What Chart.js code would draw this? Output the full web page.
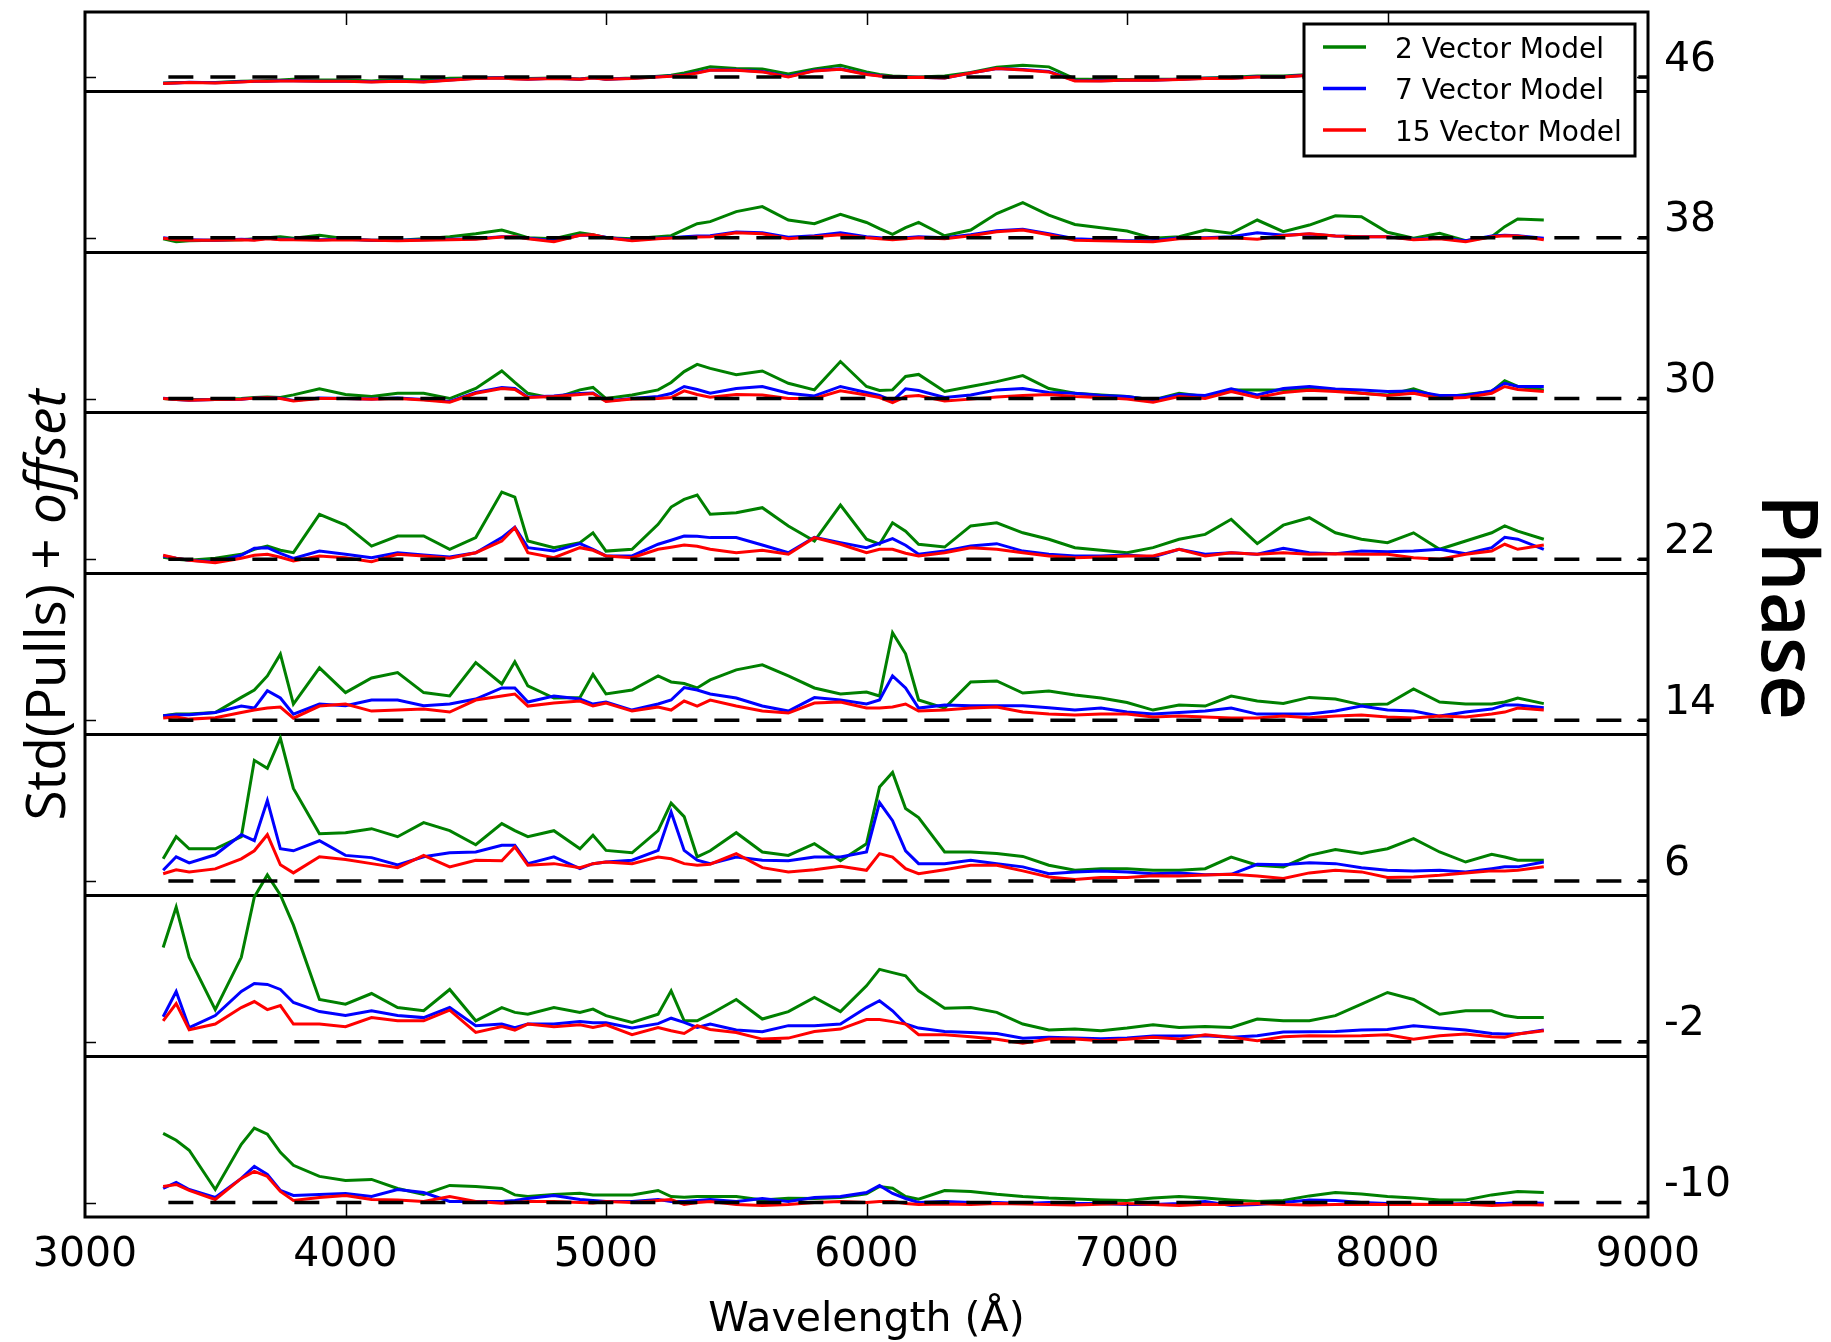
<!DOCTYPE html>
<html>
<head>
<meta charset="utf-8">
<script src="https://cdn.jsdelivr.net/npm/chart.js@4.4.1/dist/chart.umd.min.js"></script>
<style>
  body { margin: 0; background: #fff; }
  canvas { display: block; }
</style>
</head>
<body>
<canvas id="pullsChart" width="1831" height="1342"></canvas>
<script>
// wavelength grid (Angstrom) shared by all curves
const wavelengths = [3300, 3350, 3400, 3500, 3600, 3650, 3700, 3750, 3800, 3900,
  4000, 4100, 4200, 4300, 4400, 4500, 4600, 4650, 4700, 4800,
  4900, 4950, 5000, 5100, 5200, 5250, 5300, 5350, 5400, 5500,
  5600, 5700, 5800, 5900, 6000, 6050, 6100, 6150, 6200, 6300,
  6400, 6500, 6600, 6700, 6800, 6900, 7000, 7100, 7200, 7300,
  7400, 7500, 7600, 7700, 7800, 7900, 8000, 8100, 8200, 8300,
  8400, 8450, 8500, 8600];

const phases = [46, 38, 30, 22, 14, 6, -2, -10];
const wavelengthTicks = [3000, 4000, 5000, 6000, 7000, 8000, 9000];
const models = ['2 Vector Model', '7 Vector Model', '15 Vector Model'];
const baselineRange = [3320, 9000];

// std(pulls) above each phase's baseline
const green46 = [-0.30, -0.28, -0.28, -0.28, -0.22, -0.20, -0.18, -0.15, -0.12, -0.15,
  -0.15, -0.20, -0.13, -0.15, -0.07, -0.05, -0.03, -0.06, -0.08, -0.05,
  -0.10, -0.03, -0.10, -0.05, 0.03, 0.08, 0.20, 0.35, 0.50, 0.42,
  0.40, 0.15, 0.40, 0.58, 0.25, 0.12, 0.05, 0.02, 0.00, 0.05,
  0.22, 0.48, 0.58, 0.50, -0.10, -0.13, -0.13, -0.12, -0.10, -0.05,
  -0.02, 0.05, 0.05, 0.12, 0.15, 0.12, 0.15, 0.10, 0.15, 0.10,
  0.15, 0.12, 0.10, 0.10];
const blue46 = [-0.32, -0.30, -0.27, -0.29, -0.24, -0.22, -0.21, -0.19, -0.19, -0.21,
  -0.21, -0.24, -0.20, -0.24, -0.15, -0.07, -0.04, -0.08, -0.11, -0.07,
  -0.11, -0.04, -0.11, -0.07, 0.01, 0.04, 0.10, 0.22, 0.35, 0.35,
  0.27, 0.02, 0.32, 0.40, 0.14, 0.06, 0.00, -0.02, -0.02, -0.05,
  0.20, 0.42, 0.37, 0.27, -0.18, -0.19, -0.16, -0.16, -0.12, -0.07,
  -0.07, 0.01, 0.01, 0.09, 0.11, 0.06, 0.11, 0.06, 0.11, 0.06,
  0.11, 0.09, 0.06, 0.06];
const red46 = [-0.33, -0.30, -0.28, -0.30, -0.25, -0.22, -0.22, -0.20, -0.20, -0.22,
  -0.22, -0.25, -0.22, -0.25, -0.17, -0.08, -0.05, -0.10, -0.12, -0.08,
  -0.12, -0.05, -0.12, -0.08, 0.00, 0.03, 0.08, 0.20, 0.33, 0.33,
  0.25, 0.00, 0.30, 0.38, 0.12, 0.05, 0.00, -0.03, -0.02, -0.05,
  0.20, 0.42, 0.35, 0.25, -0.20, -0.20, -0.15, -0.17, -0.13, -0.08,
  -0.08, 0.00, 0.00, 0.08, 0.10, 0.05, 0.10, 0.05, 0.10, 0.05,
  0.10, 0.08, 0.05, 0.05];

const green38 = [-0.05, -0.20, -0.15, -0.12, -0.10, -0.05, 0.00, 0.05, -0.02, 0.12,
  -0.05, -0.12, -0.12, -0.05, 0.05, 0.20, 0.38, 0.20, 0.00, -0.05,
  0.25, 0.15, 0.00, -0.05, 0.05, 0.10, 0.40, 0.70, 0.80, 1.30,
  1.55, 0.88, 0.70, 1.16, 0.76, 0.45, 0.17, 0.50, 0.76, 0.10,
  0.38, 1.20, 1.75, 1.12, 0.66, 0.50, 0.33, -0.03, 0.05, 0.38,
  0.22, 0.88, 0.30, 0.63, 1.09, 1.04, 0.27, -0.03, 0.22, -0.15,
  0.05, 0.55, 0.93, 0.88];
const blue38 = [0.00, -0.08, -0.10, -0.12, -0.08, -0.10, -0.03, -0.08, -0.08, -0.10,
  -0.08, -0.12, -0.13, -0.10, -0.08, -0.05, 0.05, 0.05, -0.03, -0.15,
  0.12, 0.12, 0.02, -0.12, -0.02, 0.00, 0.05, 0.08, 0.10, 0.28,
  0.25, 0.02, 0.10, 0.25, 0.05, 0.00, -0.05, 0.00, 0.05, 0.00,
  0.15, 0.35, 0.42, 0.20, -0.05, -0.10, -0.15, -0.15, 0.00, 0.00,
  0.05, 0.25, 0.12, 0.18, 0.08, 0.05, 0.05, -0.08, -0.03, -0.15,
  0.08, 0.12, 0.10, -0.03];
const red38 = [-0.03, -0.10, -0.12, -0.12, -0.10, -0.12, -0.05, -0.10, -0.10, -0.12,
  -0.10, -0.12, -0.15, -0.12, -0.10, -0.08, 0.03, 0.05, -0.05, -0.20,
  0.12, 0.15, 0.00, -0.15, -0.05, -0.02, 0.00, 0.03, 0.05, 0.25,
  0.20, -0.05, 0.05, 0.15, 0.00, -0.05, -0.10, -0.05, 0.00, -0.05,
  0.10, 0.30, 0.38, 0.15, -0.12, -0.15, -0.18, -0.20, -0.05, -0.03,
  0.00, -0.08, 0.10, 0.20, 0.08, 0.05, 0.05, -0.10, -0.05, -0.20,
  0.05, 0.10, 0.08, -0.10];

const green30 = [0.00, -0.05, -0.05, -0.05, 0.00, 0.05, 0.08, 0.05, 0.18, 0.48,
  0.20, 0.10, 0.26, 0.26, 0.00, 0.50, 1.37, 0.80, 0.26, 0.00,
  0.43, 0.55, 0.00, 0.18, 0.43, 0.80, 1.34, 1.70, 1.50, 1.18,
  1.37, 0.76, 0.43, 1.84, 0.60, 0.40, 0.43, 1.10, 1.20, 0.35,
  0.60, 0.84, 1.14, 0.50, 0.26, 0.18, 0.10, -0.07, 0.26, 0.10,
  0.43, 0.43, 0.43, 0.50, 0.43, 0.26, 0.18, 0.48, 0.05, 0.20,
  0.35, 0.88, 0.60, 0.43];
const blue30 = [0.02, -0.05, -0.08, -0.05, -0.03, 0.02, 0.05, 0.02, -0.10, 0.02,
  0.00, -0.02, 0.02, -0.05, -0.15, 0.30, 0.55, 0.50, 0.08, 0.12,
  0.25, 0.28, -0.12, 0.00, 0.10, 0.25, 0.60, 0.45, 0.26, 0.50,
  0.60, 0.26, 0.13, 0.60, 0.30, 0.15, -0.12, 0.48, 0.40, 0.05,
  0.18, 0.43, 0.50, 0.30, 0.26, 0.15, 0.10, -0.07, 0.20, 0.15,
  0.48, 0.18, 0.50, 0.60, 0.48, 0.43, 0.35, 0.38, 0.15, 0.15,
  0.38, 0.76, 0.60, 0.60];
const red30 = [0.00, -0.05, -0.08, -0.05, -0.03, 0.02, 0.05, 0.00, -0.12, 0.00,
  0.00, -0.03, 0.00, -0.07, -0.18, 0.26, 0.50, 0.45, 0.05, 0.10,
  0.20, 0.25, -0.15, -0.02, 0.00, 0.05, 0.38, 0.20, 0.07, 0.20,
  0.18, 0.00, 0.00, 0.38, 0.18, 0.05, -0.20, 0.10, 0.15, -0.12,
  -0.03, 0.08, 0.15, 0.20, 0.10, 0.05, -0.03, -0.18, 0.10, 0.00,
  0.35, 0.05, 0.30, 0.41, 0.35, 0.26, 0.15, 0.26, 0.00, 0.05,
  0.26, 0.60, 0.45, 0.35];

const green22 = [0.10, 0.00, -0.05, 0.05, 0.25, 0.50, 0.66, 0.45, 0.33, 2.24,
  1.70, 0.66, 1.16, 1.16, 0.50, 1.08, 3.35, 3.10, 0.91, 0.58,
  0.83, 1.32, 0.41, 0.50, 1.74, 2.60, 2.98, 3.20, 2.24, 2.32,
  2.57, 1.66, 0.91, 2.70, 1.00, 0.75, 1.82, 1.40, 0.75, 0.61,
  1.66, 1.82, 1.32, 1.00, 0.58, 0.45, 0.33, 0.58, 1.00, 1.24,
  1.99, 0.78, 1.70, 2.07, 1.32, 1.00, 0.83, 1.32, 0.50, 0.91,
  1.32, 1.66, 1.40, 1.00];
const blue22 = [0.17, 0.05, -0.05, -0.12, 0.20, 0.55, 0.58, 0.30, 0.05, 0.41,
  0.25, 0.08, 0.33, 0.22, 0.12, 0.33, 1.08, 1.60, 0.58, 0.41,
  0.78, 0.50, 0.17, 0.17, 0.75, 0.95, 1.16, 1.15, 1.08, 1.08,
  0.71, 0.33, 1.10, 0.83, 0.58, 0.80, 1.03, 0.70, 0.25, 0.41,
  0.66, 0.78, 0.41, 0.25, 0.17, 0.17, 0.22, 0.12, 0.50, 0.25,
  0.33, 0.25, 0.55, 0.33, 0.28, 0.41, 0.38, 0.41, 0.50, 0.28,
  0.58, 1.10, 1.00, 0.50];
const red22 = [0.20, 0.05, -0.05, -0.17, 0.05, 0.20, 0.25, 0.10, -0.08, 0.17,
  0.08, -0.12, 0.25, 0.17, 0.05, 0.33, 0.91, 1.57, 0.33, 0.08,
  0.58, 0.45, 0.17, 0.08, 0.50, 0.60, 0.71, 0.65, 0.50, 0.33,
  0.45, 0.25, 1.08, 0.75, 0.33, 0.50, 0.50, 0.30, 0.17, 0.33,
  0.58, 0.50, 0.33, 0.17, 0.08, 0.12, 0.17, 0.17, 0.50, 0.17,
  0.33, 0.25, 0.33, 0.25, 0.28, 0.25, 0.25, 0.08, 0.00, 0.25,
  0.41, 0.75, 0.50, 0.71];

const green14 = [0.22, 0.30, 0.30, 0.38, 1.13, 1.50, 2.20, 3.28, 0.80, 2.60,
  1.37, 2.10, 2.37, 1.37, 1.20, 2.86, 1.80, 2.90, 1.70, 1.10,
  1.13, 2.28, 1.30, 1.50, 2.20, 1.90, 1.82, 1.60, 2.00, 2.50,
  2.75, 2.20, 1.60, 1.30, 1.40, 1.20, 4.35, 3.30, 1.00, 0.60,
  1.90, 1.95, 1.35, 1.45, 1.25, 1.10, 0.88, 0.50, 0.75, 0.70,
  1.20, 0.95, 0.83, 1.13, 1.05, 0.76, 0.80, 1.55, 0.90, 0.80,
  0.80, 0.90, 1.10, 0.82];
const blue14 = [0.22, 0.27, 0.27, 0.38, 0.70, 0.60, 1.46, 1.10, 0.30, 0.80,
  0.72, 1.00, 1.00, 0.72, 0.80, 1.05, 1.60, 1.60, 0.90, 1.20,
  1.05, 0.80, 0.90, 0.50, 0.80, 1.00, 1.62, 1.50, 1.30, 1.10,
  0.70, 0.45, 1.12, 1.00, 0.80, 1.00, 2.20, 1.60, 0.60, 0.75,
  0.72, 0.72, 0.72, 0.62, 0.50, 0.60, 0.40, 0.30, 0.38, 0.45,
  0.60, 0.30, 0.30, 0.30, 0.45, 0.70, 0.50, 0.45, 0.20, 0.40,
  0.55, 0.75, 0.75, 0.62];
const red14 = [0.10, 0.15, 0.05, 0.12, 0.38, 0.50, 0.60, 0.65, 0.10, 0.70,
  0.80, 0.45, 0.50, 0.55, 0.40, 1.00, 1.20, 1.30, 0.70, 0.85,
  0.95, 0.70, 0.85, 0.45, 0.65, 0.50, 0.95, 0.70, 1.00, 0.70,
  0.45, 0.35, 0.85, 0.90, 0.60, 0.60, 0.65, 0.80, 0.45, 0.50,
  0.60, 0.65, 0.40, 0.30, 0.25, 0.30, 0.30, 0.15, 0.20, 0.15,
  0.10, 0.10, 0.20, 0.12, 0.20, 0.25, 0.15, 0.10, 0.20, 0.15,
  0.30, 0.40, 0.60, 0.50];

const green6 = [1.10, 2.20, 1.60, 1.60, 2.20, 6.00, 5.60, 7.10, 4.60, 2.35,
  2.40, 2.60, 2.20, 2.90, 2.50, 1.80, 2.85, 2.50, 2.20, 2.50,
  1.60, 2.27, 1.52, 1.40, 2.50, 3.87, 3.20, 1.20, 1.50, 2.40,
  1.44, 1.27, 1.85, 1.00, 1.85, 4.67, 5.40, 3.60, 3.15, 1.44,
  1.44, 1.36, 1.22, 0.78, 0.53, 0.61, 0.61, 0.53, 0.53, 0.61,
  1.19, 0.78, 0.70, 1.27, 1.56, 1.36, 1.60, 2.10, 1.44, 0.94,
  1.32, 1.19, 1.03, 1.03];
const blue6 = [0.53, 1.20, 0.90, 1.30, 2.30, 2.00, 4.00, 1.60, 1.50, 2.00,
  1.27, 1.16, 0.80, 1.20, 1.40, 1.44, 1.77, 1.77, 0.86, 1.20,
  0.61, 0.86, 0.94, 1.03, 1.52, 3.43, 1.52, 1.03, 0.86, 1.19,
  1.03, 1.00, 1.19, 1.19, 1.44, 3.90, 3.00, 1.50, 0.86, 0.86,
  1.03, 0.86, 0.70, 0.36, 0.45, 0.50, 0.45, 0.36, 0.40, 0.31,
  0.33, 0.83, 0.80, 0.90, 0.86, 0.66, 0.53, 0.50, 0.53, 0.45,
  0.61, 0.70, 0.70, 0.94];
const red6 = [0.36, 0.55, 0.45, 0.60, 1.10, 1.50, 2.30, 0.80, 0.40, 1.20,
  1.07, 0.86, 0.66, 1.27, 0.70, 1.03, 1.00, 1.69, 0.78, 0.86,
  0.66, 0.86, 0.94, 0.86, 1.19, 1.10, 0.86, 0.78, 0.83, 1.36,
  0.66, 0.45, 0.56, 0.73, 0.53, 1.36, 1.19, 0.61, 0.36, 0.56,
  0.78, 0.78, 0.50, 0.20, 0.07, 0.17, 0.17, 0.26, 0.25, 0.30,
  0.33, 0.25, 0.12, 0.40, 0.53, 0.45, 0.17, 0.20, 0.28, 0.40,
  0.50, 0.50, 0.53, 0.70];

const greenM2 = [4.69, 6.70, 4.20, 1.60, 4.20, 7.20, 8.30, 7.30, 5.80, 2.10,
  1.87, 2.40, 1.70, 1.54, 2.60, 1.04, 1.70, 1.46, 1.37, 1.70,
  1.46, 1.62, 1.30, 0.96, 1.37, 2.53, 1.04, 1.04, 1.37, 2.10,
  1.13, 1.50, 2.20, 1.50, 2.78, 3.60, 3.44, 3.28, 2.53, 1.67,
  1.70, 1.46, 0.88, 0.58, 0.63, 0.55, 0.68, 0.84, 0.71, 0.76,
  0.71, 1.13, 1.04, 1.04, 1.30, 1.87, 2.45, 2.10, 1.37, 1.54,
  1.54, 1.30, 1.20, 1.20];
const blueM2 = [1.24, 2.50, 0.70, 1.30, 2.50, 2.90, 2.85, 2.60, 1.95, 1.50,
  1.30, 1.54, 1.30, 1.20, 1.70, 0.80, 0.88, 0.70, 0.88, 0.88,
  1.00, 0.94, 0.94, 0.68, 0.90, 1.17, 0.96, 0.71, 0.88, 0.58,
  0.50, 0.80, 0.80, 0.88, 1.70, 2.04, 1.54, 0.88, 0.68, 0.51,
  0.46, 0.41, 0.17, 0.22, 0.18, 0.15, 0.18, 0.28, 0.28, 0.30,
  0.22, 0.30, 0.48, 0.50, 0.51, 0.58, 0.61, 0.80, 0.68, 0.58,
  0.41, 0.38, 0.38, 0.58];
const redM2 = [1.04, 1.90, 0.60, 0.88, 1.70, 2.00, 1.60, 1.80, 0.88, 0.88,
  0.75, 1.20, 1.04, 1.04, 1.57, 0.46, 0.75, 0.58, 0.88, 0.75,
  0.84, 0.71, 0.84, 0.35, 0.71, 0.55, 0.41, 0.80, 0.61, 0.46,
  0.13, 0.18, 0.51, 0.63, 1.10, 1.10, 1.00, 0.88, 0.35, 0.35,
  0.25, 0.12, -0.08, 0.13, 0.13, 0.05, 0.12, 0.22, 0.13, 0.35,
  0.22, 0.05, 0.25, 0.30, 0.28, 0.30, 0.35, 0.13, 0.30, 0.38,
  0.25, 0.22, 0.38, 0.55];

const greenM10 = [3.44, 3.10, 2.60, 0.65, 2.90, 3.70, 3.40, 2.50, 1.85, 1.30,
  1.10, 1.15, 0.70, 0.40, 0.85, 0.80, 0.70, 0.38, 0.30, 0.40,
  0.46, 0.38, 0.38, 0.38, 0.60, 0.30, 0.26, 0.30, 0.30, 0.30,
  0.13, 0.21, 0.20, 0.25, 0.43, 0.80, 0.71, 0.30, 0.17, 0.60,
  0.55, 0.41, 0.30, 0.22, 0.17, 0.13, 0.10, 0.22, 0.30, 0.22,
  0.13, 0.05, 0.10, 0.33, 0.50, 0.43, 0.30, 0.22, 0.13, 0.13,
  0.38, 0.46, 0.55, 0.50];
const blueM10 = [0.71, 1.00, 0.65, 0.25, 1.20, 1.80, 1.40, 0.60, 0.35, 0.40,
  0.45, 0.30, 0.65, 0.50, 0.05, 0.05, 0.05, 0.10, 0.20, 0.35,
  0.15, 0.10, 0.05, 0.05, 0.15, 0.05, 0.05, 0.10, 0.15, 0.05,
  0.20, 0.05, 0.25, 0.30, 0.50, 0.85, 0.45, 0.20, 0.00, 0.05,
  0.00, 0.00, -0.05, 0.00, -0.05, -0.05, -0.10, -0.10, -0.05, 0.05,
  -0.15, -0.10, 0.00, 0.12, 0.10, 0.00, -0.05, -0.10, -0.10, -0.05,
  -0.05, -0.05, 0.00, -0.03];
const redM10 = [0.80, 0.90, 0.60, 0.15, 1.20, 1.55, 1.30, 0.55, 0.10, 0.25,
  0.35, 0.15, 0.13, 0.05, 0.30, 0.05, -0.03, 0.00, 0.05, 0.05,
  0.00, -0.02, 0.05, 0.00, 0.10, 0.15, -0.10, 0.00, 0.05, -0.10,
  -0.15, -0.10, 0.00, 0.05, 0.00, 0.05, 0.05, -0.05, -0.10, -0.07,
  -0.10, -0.05, -0.07, -0.10, -0.12, -0.08, -0.05, -0.10, -0.15, -0.08,
  -0.10, -0.05, -0.10, -0.12, -0.10, -0.08, -0.10, -0.08, -0.10, -0.08,
  -0.15, -0.12, -0.10, -0.12];

const curves = {
  '46': [green46, blue46, red46],
  '38': [green38, blue38, red38],
  '30': [green30, blue30, red30],
  '22': [green22, blue22, red22],
  '14': [green14, blue14, red14],
  '6': [green6, blue6, red6],
  '-2': [greenM2, blueM2, redM2],
  '-10': [greenM10, blueM10, redM10]
};

const colors = ['#008000', '#0000ff', '#ff0000'];
const panelGap = 0.72;            // baseline sits this far above the panel edge
const yMin = -10 - panelGap;
const yMax = 49.23;
const boundaries = phases.slice(0, -1).map(p => p - panelGap);

Chart.defaults.font.family = 'DejaVu Sans';
Chart.defaults.color = '#000';

const datasets = [];
phases.forEach(p => {
  curves[String(p)].forEach((vals, m) => {
    datasets.push({
      label: models[m],
      data: wavelengths.map((w, i) => ({ x: w, y: p + vals[i] })),
      borderColor: colors[m],
      borderWidth: 3,
      pointRadius: 0,
      tension: 0,
      fill: false,
      order: 3 - m
    });
  });
  datasets.push({
    label: 'baseline',
    data: baselineRange.map(w => ({ x: w, y: p })),
    borderColor: '#000',
    borderWidth: 3.5,
    borderDash: [25, 17],
    pointRadius: 0,
    fill: false,
    order: 0
  });
});

// no extra room for overhanging tick labels: keep plot box fixed
function fixBox(size, horizontal) {
  return s => {
    if (horizontal) { s.height = size; } else { s.width = size; }
    s.paddingTop = 0; s.paddingBottom = 0;
    s.paddingLeft = 0; s.paddingRight = 0;
  };
}

const decorations = {
  id: 'decorations',
  afterDraw(chart) {
    const { ctx, chartArea: a, scales } = chart;
    ctx.save();

    // inward ticks
    ctx.strokeStyle = '#000';
    ctx.lineWidth = 1.5;
    ctx.beginPath();
    wavelengthTicks.slice(1, -1).forEach(t => {
      const px = Math.round(scales.x.getPixelForValue(t)) + 0.5;
      ctx.moveTo(px, a.top); ctx.lineTo(px, a.top + 13);
      ctx.moveTo(px, a.bottom); ctx.lineTo(px, a.bottom - 13);
    });
    phases.forEach(p => {
      const py = Math.round(scales.y.getPixelForValue(p)) + 0.5;
      ctx.moveTo(a.left, py); ctx.lineTo(a.left + 11, py);
      ctx.moveTo(a.right, py); ctx.lineTo(a.right - 11, py);
    });
    ctx.stroke();

    // frame
    ctx.lineWidth = 3;
    ctx.strokeRect(a.left, a.top, a.right - a.left, a.bottom - a.top);

    // legend
    const lx = a.right - 344, ly = a.top + 12, lw = 331, lh = 132;
    ctx.fillStyle = '#fff';
    ctx.fillRect(lx, ly, lw, lh);
    ctx.lineWidth = 3;
    ctx.strokeRect(lx, ly, lw, lh);
    ctx.font = '28px "DejaVu Sans"';
    ctx.textAlign = 'left';
    ctx.textBaseline = 'alphabetic';
    models.forEach((name, m) => {
      const ry = ly + 23 + m * 41.5;
      ctx.strokeStyle = colors[m];
      ctx.lineWidth = 3.5;
      ctx.beginPath();
      ctx.moveTo(lx + 19, ry); ctx.lineTo(lx + 62, ry);
      ctx.stroke();
      ctx.fillStyle = '#000';
      ctx.fillText(name, lx + 91, ry + 10.5);
    });

    // x title
    ctx.fillStyle = '#000';
    ctx.font = '41px "DejaVu Sans"';
    ctx.textAlign = 'center';
    ctx.fillText('Wavelength (Å)', (a.left + a.right) / 2, 1331);

    // y title with italic "offset"
    ctx.save();
    ctx.translate(49, 605);
    ctx.rotate(-Math.PI / 2);
    ctx.textBaseline = 'middle';
    ctx.textAlign = 'left';
    const part1 = 'Std(Pulls) + ';
    const part2 = 'offset';
    ctx.font = '55px "Open Sans"';
    const w1 = ctx.measureText(part1).width;
    ctx.font = 'italic 55px "Open Sans"';
    const w2 = ctx.measureText(part2).width;
    const x0 = -(w1 + w2) / 2;
    ctx.font = '55px "Open Sans"';
    ctx.fillText(part1, x0, 0);
    ctx.font = 'italic 55px "Open Sans"';
    ctx.fillText(part2, x0 + w1, 0);
    ctx.restore();

    // right title
    ctx.save();
    ctx.translate(1784, 607);
    ctx.rotate(Math.PI / 2);
    ctx.font = '600 78px "Open Sans"';
    ctx.textAlign = 'center';
    ctx.textBaseline = 'middle';
    ctx.fillText('Phase', 0, 0);
    ctx.restore();

    ctx.restore();
  }
};

new Chart(document.getElementById('pullsChart'), {
  type: 'line',
  data: { datasets: datasets },
  options: {
    responsive: false,
    animation: false,
    events: [],
    layout: {
      padding: { top: 12, left: 0, right: 0, bottom: 0 }
    },
    plugins: {
      legend: { display: false },
      tooltip: { enabled: false }
    },
    scales: {
      x: {
        type: 'linear',
        min: 3000,
        max: 9000,
        afterBuildTicks: s => { s.ticks = wavelengthTicks.map(v => ({ value: v })); },
        afterFit: fixBox(125, true),
        grid: { display: false, drawTicks: false },
        border: { display: false },
        ticks: {
          padding: 14,
          maxRotation: 0,
          autoSkip: false,
          font: { size: 41 },
          callback: v => String(v)
        }
      },
      y: {
        type: 'linear',
        position: 'left',
        min: yMin,
        max: yMax,
        afterBuildTicks: s => { s.ticks = boundaries.map(v => ({ value: v })); },
        afterFit: fixBox(85, false),
        grid: { color: '#000', lineWidth: 3, drawTicks: false },
        border: { display: false },
        ticks: { display: false }
      },
      yR: {
        type: 'linear',
        position: 'right',
        min: yMin,
        max: yMax,
        afterBuildTicks: s => { s.ticks = phases.map(v => ({ value: v })); },
        afterFit: fixBox(183, false),
        grid: { display: false, drawTicks: false },
        border: { display: false },
        ticks: {
          padding: 16,
          labelOffset: -17,
          autoSkip: false,
          font: { size: 41 },
          callback: v => String(v)
        }
      }
    }
  },
  plugins: [decorations]
});
</script>
</body>
</html>
